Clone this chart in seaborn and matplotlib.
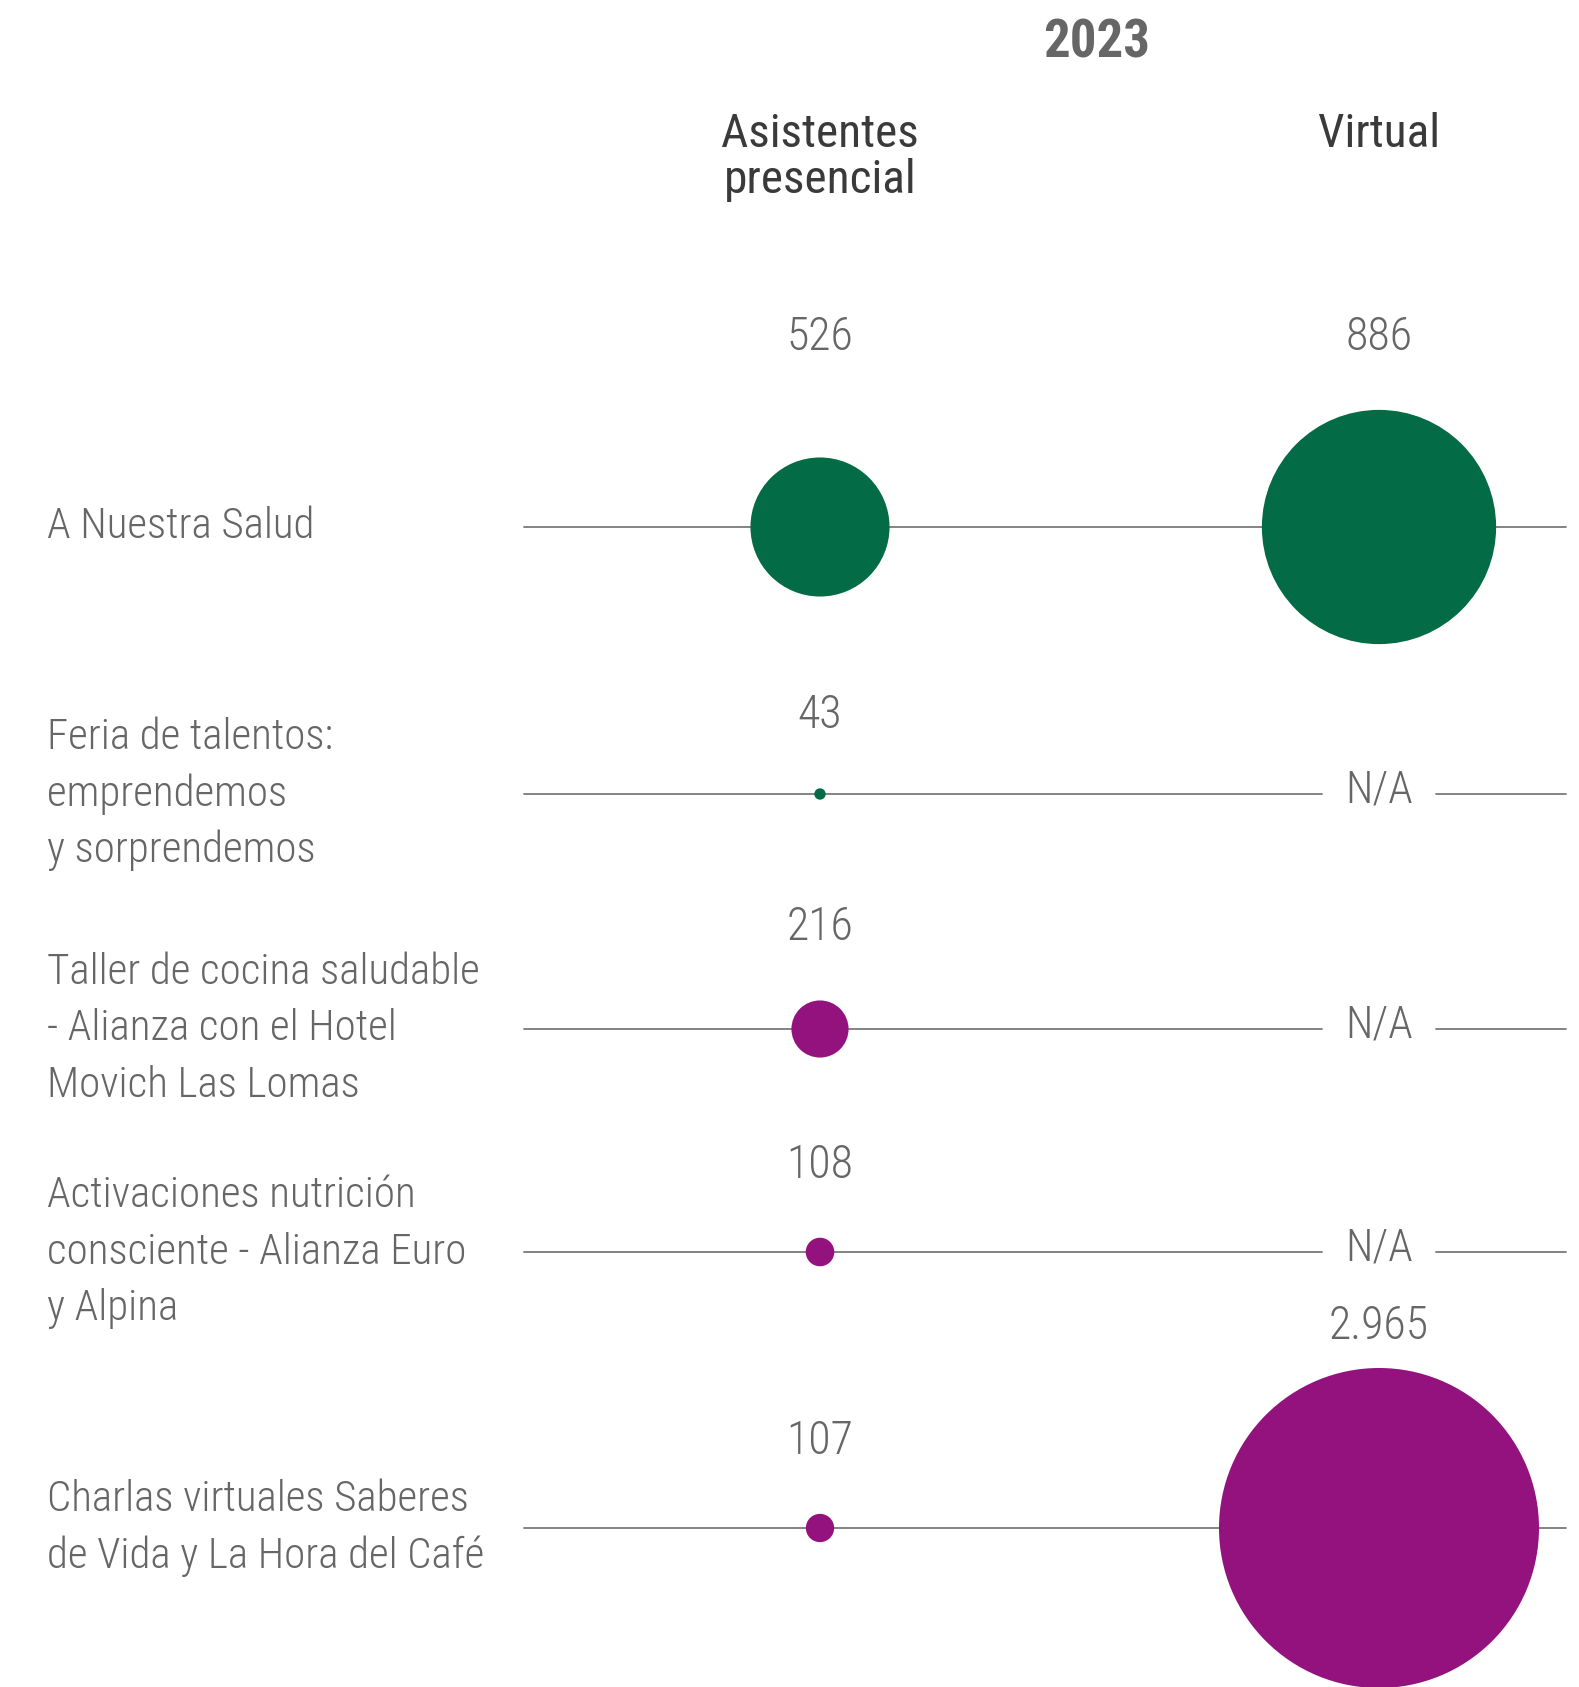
import numpy as np
import pandas as pd
import matplotlib
matplotlib.use("Agg")
import matplotlib.pyplot as plt
from matplotlib import font_manager as fm
import seaborn as sns

# ---------------- data ----------------
eventos = [
    "A Nuestra Salud",
    "Feria de talentos:\nemprendemos\ny sorprendemos",
    "Taller de cocina saludable\n- Alianza con el Hotel\nMovich Las Lomas",
    "Activaciones nutrición\nconsciente - Alianza Euro\ny Alpina",
    "Charlas virtuales Saberes\nde Vida y La Hora del Café",
]
presencial = [526, 43, 216, 108, 107]
virtual = [886, None, None, None, 2965]
modalidades = ["Asistentes\npresencial", "Virtual"]
etiquetas_presencial = ["526", "43", "216", "108", "107"]
etiquetas_virtual = ["886", "N/A", "N/A", "N/A", "2.965"]
titulo = "2023"
grupo = ["verde", "verde", "morado", "morado", "morado"]

# ---------------- style ----------------
sns.set_theme(style="white")
available = {f.name: f for f in fm.fontManager.ttflist}
prefs = ["Roboto Condensed", "Archivo Narrow", "PT Sans Narrow",
         "Sofia Sans Condensed", "Fira Sans Condensed",
         "IBM Plex Sans Condensed", "Barlow Semi Condensed",
         "Asap Condensed", "Encode Sans Condensed"]
main = next((p for p in prefs if p in available), "DejaVu Sans")
FONT = [main, "DejaVu Sans"]
weights = {f.weight for f in fm.fontManager.ttflist if f.name == main}
LIGHT = 300 if 300 in weights else "normal"
plt.rcParams["font.family"] = FONT

GREEN = "#036B45"
PURPLE = "#93127D"
TXT = "#666666"
HEAD = "#3a3a3a"
LINE = "#7a7a7a"

W, H, DPI = 1579, 1687, 100
fig = plt.figure(figsize=(W / DPI, H / DPI), dpi=DPI)
ax = fig.add_axes([0, 0, 1, 1])

# layout (pixels)
row_y = [527, 794, 1029, 1252, 1528]
col_px = [820, 1379]
px_per_unit = col_px[1] - col_px[0]

def px_radius(v):
    return min(0.1322 * v, 160.0)

rows = []
for i, ev in enumerate(eventos):
    for mod, vals in zip(modalidades, [presencial, virtual]):
        v = vals[i]
        if v is None:
            continue
        rows.append({"evento": ev, "modalidad": mod, "valor": v,
                     "y": row_y[i], "grupo": grupo[i]})
df = pd.DataFrame(rows)

area = {v: (2 * px_radius(v) * 72 / DPI) ** 2 for v in df["valor"]}

# horizontal guide lines
x0 = (524 - col_px[0]) / px_per_unit
x1 = (1566 - col_px[0]) / px_per_unit
gap = 57 / px_per_unit
for i in range(len(eventos)):
    if virtual[i] is None:
        ax.plot([x0, 1 - gap], [row_y[i]] * 2, color=LINE, lw=1.3, zorder=1)
        ax.plot([1 + gap, x1], [row_y[i]] * 2, color=LINE, lw=1.3, zorder=1)
    else:
        ax.plot([x0, x1], [row_y[i]] * 2, color=LINE, lw=1.3, zorder=1)

sns.scatterplot(data=df, x="modalidad", y="y", hue="grupo", size="valor",
                sizes=area, palette={"verde": GREEN, "morado": PURPLE},
                linewidth=0, legend=False, ax=ax, zorder=3)

ax.set_xlim(-col_px[0] / px_per_unit, (W - col_px[0]) / px_per_unit)
ax.set_ylim(H, 0)
ax.set_axis_off()

# value labels
for i in range(len(eventos)):
    offs = []
    for vals in [presencial, virtual]:
        v = vals[i]
        offs.append(None if v is None else min(px_radius(v) + 73, 202))
    present = [o for o in offs if o is not None]
    aligned = len(present) == 2 and all(o < 202 for o in present)
    for j, (vals, labs) in enumerate([(presencial, etiquetas_presencial),
                                      (virtual, etiquetas_virtual)]):
        if vals[i] is None:
            ax.text(j, row_y[i] - 4, labs[i], ha="center", va="center",
                    fontsize=32, color=TXT, family=FONT, fontweight=LIGHT)
        else:
            o = max(present) if aligned else offs[j]
            ax.text(j, row_y[i] - o, labs[i], ha="center", va="center",
                    fontsize=33, color=TXT, family=FONT, fontweight=LIGHT)

# row labels
for i, ev in enumerate(eventos):
    ax.text((47 - col_px[0]) / px_per_unit, row_y[i], ev, ha="left",
            va="center", fontsize=31, color=TXT, linespacing=1.47,
            family=FONT, fontweight=LIGHT)

# headers
ax.text(0, 157, modalidades[0], ha="center", va="center", fontsize=34,
        color=HEAD, linespacing=1.07, family=FONT)
ax.text(1, 134, modalidades[1], ha="center", va="center", fontsize=34,
        color=HEAD, family=FONT)
ax.text((1097 - col_px[0]) / px_per_unit, 43, titulo, ha="center",
        va="center", fontsize=38, fontweight="bold", color=TXT, family=FONT)

fig.savefig("out.png", dpi=DPI, facecolor="white")
